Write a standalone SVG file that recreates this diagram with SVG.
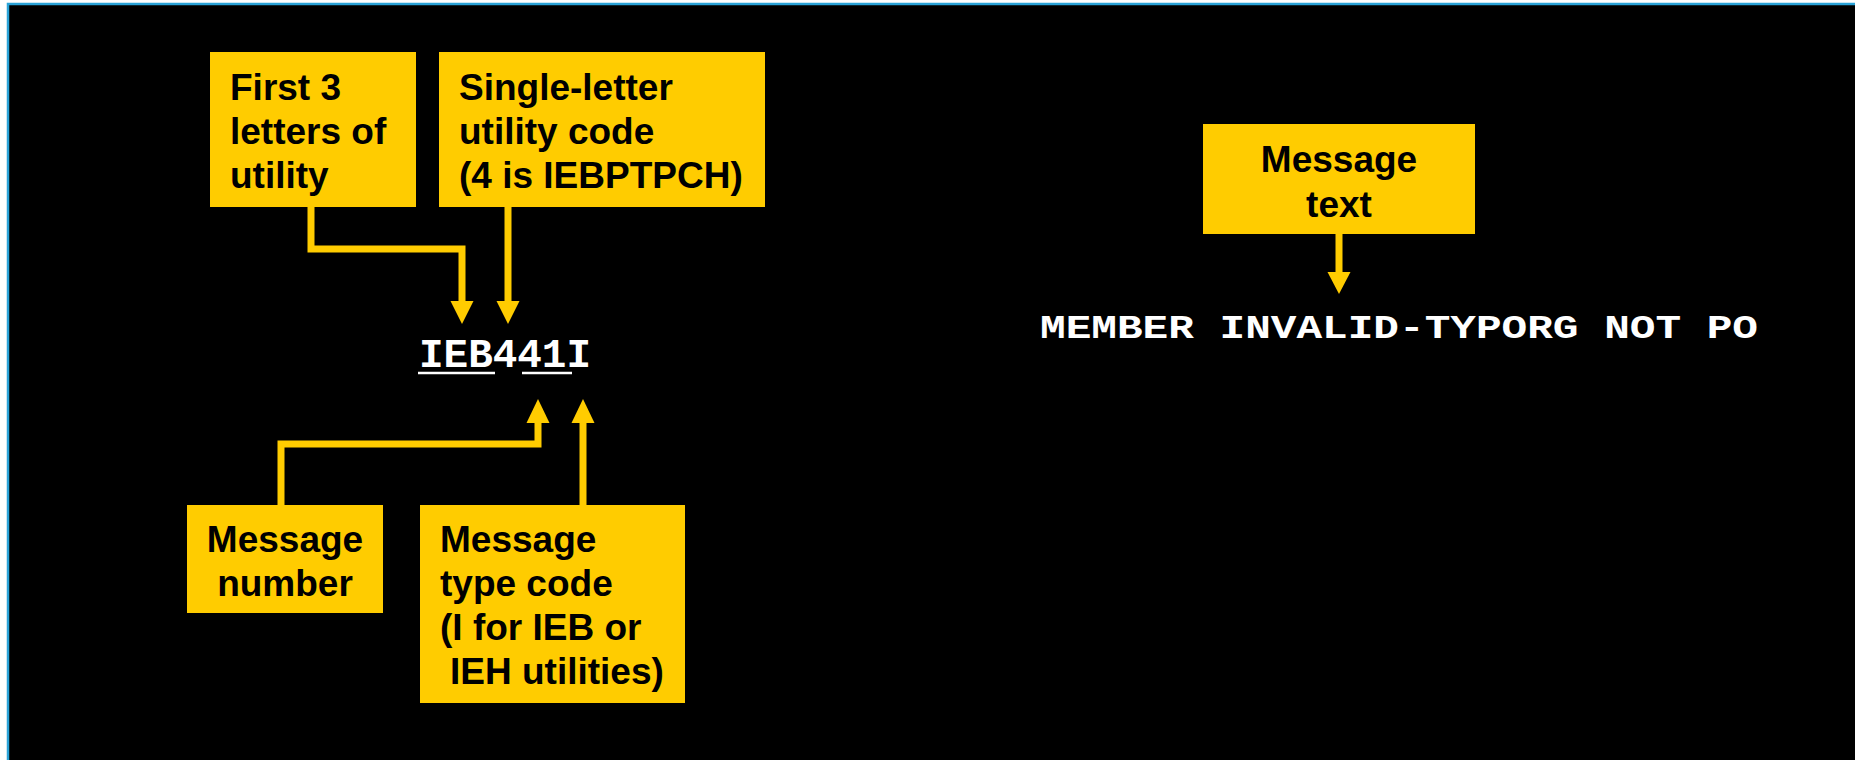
<svg xmlns="http://www.w3.org/2000/svg" width="1855" height="760" viewBox="0 0 1855 760">
<defs>
<style>
.box{fill:#FFCC00;}
.lbl{font-family:"Liberation Sans",Arial,sans-serif;font-weight:bold;font-size:37px;fill:#000;}
.mid{text-anchor:middle;}
.code{font-family:"Liberation Mono","Courier New",monospace;font-weight:bold;fill:#fff;}
.wire{fill:none;stroke:#FFCC00;stroke-width:7;}
.head{fill:#FFCC00;}
.ul{stroke:#fff;stroke-width:2.7;}
</style>
</defs>
<rect x="0" y="0" width="1855" height="760" fill="#fff"/>
<rect x="8" y="4" width="1847" height="756" fill="#000"/>
<path d="M8,760 L8,4 L1855,4" fill="none" stroke="#2AA3D8" stroke-width="2.5"/>

<g id="connectors">
<polyline class="wire" points="311,207 311,249 462,249 462,302"/>
<polygon class="head" points="450.5,301 473.5,301 462,324"/>
<polyline class="wire" points="508,207 508,302"/>
<polygon class="head" points="496.5,301 519.5,301 508,324"/>
<polyline class="wire" points="281,505 281,444 538,444 538,422"/>
<polygon class="head" points="526.5,423 549.5,423 538,399"/>
<polyline class="wire" points="583,505 583,422"/>
<polygon class="head" points="571.5,423 594.5,423 583,399"/>
<polyline class="wire" points="1339,234 1339,273"/>
<polygon class="head" points="1327.5,272 1350.5,272 1339,294"/>
</g>

<g id="node-first3">
<rect class="box" x="210" y="52" width="206" height="155"/>
<text class="lbl" x="230" y="100">First 3</text>
<text class="lbl" x="230" y="144">letters of</text>
<text class="lbl" x="230" y="188">utility</text>
</g>

<g id="node-single-letter">
<rect class="box" x="439" y="52" width="326" height="155"/>
<text class="lbl" x="459" y="100">Single-letter</text>
<text class="lbl" x="459" y="144">utility code</text>
<text class="lbl" x="459" y="188">(4 is IEBPTPCH)</text>
</g>

<g id="node-msg-number">
<rect class="box" x="187" y="505" width="196" height="108"/>
<text class="lbl mid" x="285" y="552">Message</text>
<text class="lbl mid" x="285" y="596">number</text>
</g>

<g id="node-msg-type">
<rect class="box" x="420" y="505" width="265" height="198"/>
<text class="lbl" x="440" y="552">Message</text>
<text class="lbl" x="440" y="596">type code</text>
<text class="lbl" x="440" y="640">(I for IEB or</text>
<text class="lbl" x="450" y="684">IEH utilities)</text>
</g>

<g id="node-msg-text">
<rect class="box" x="1203" y="124" width="272" height="110"/>
<text class="lbl mid" x="1339" y="172">Message</text>
<text class="lbl mid" x="1339" y="217">text</text>
</g>

<g id="msg-id">
<text class="code" x="419" y="367" font-size="40" textLength="172" lengthAdjust="spacingAndGlyphs">IEB441I</text>
<line class="ul" x1="418" y1="373" x2="495" y2="373"/>
<line class="ul" x1="522" y1="373" x2="572" y2="373"/>
</g>

<g id="msg-body">
<text class="code" x="1040" y="338" font-size="34" textLength="718" lengthAdjust="spacingAndGlyphs">MEMBER INVALID-TYPORG NOT PO</text>
</g>
</svg>
